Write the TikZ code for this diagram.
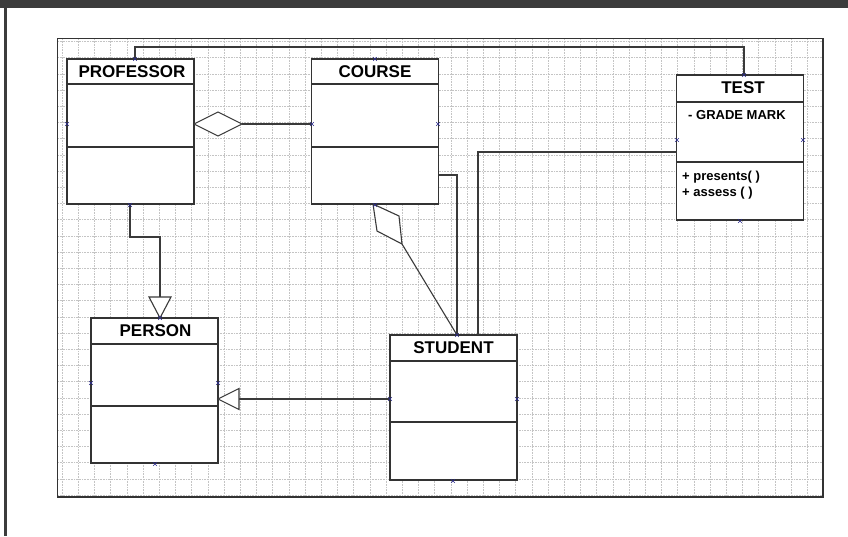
\documentclass[tikz,border=0pt]{standalone}
\usepackage{fontspec}
\setmainfont{Liberation Sans}
\usetikzlibrary{calc}
\definecolor{ink}{HTML}{333333}
\definecolor{wire}{HTML}{3A3A3A}
\definecolor{portc}{HTML}{2A2A8A}
\definecolor{topbar}{HTML}{3C3C3C}
\definecolor{gridc}{HTML}{C4C4C4}
\begin{document}
\begin{tikzpicture}[x=1pt,y=-1pt,
  classbox/.style={draw=ink,line width=1.3pt,fill=white,minimum width=127pt,minimum height=145pt,inner sep=0pt,outer sep=0pt},
  ctitle/.style={font=\bfseries\fontsize{17}{20}\selectfont,inner sep=0pt,text=black},
  attr/.style={font=\bfseries\fontsize{13}{15}\selectfont,inner sep=0pt,anchor=west,text=black},
  classline/.style={draw=ink,line width=1.3pt},
  conn/.style={draw=wire,line width=1.1pt,line join=miter},
  gridl/.style={draw=gridc,line width=0.6pt,densely dotted},
  portmark/.style={draw=portc,line width=0.6pt}]
\useasboundingbox (0,0) rectangle (848,536);
\fill[white] (0,0) rectangle (848,536);
% window frame
\fill[topbar] (0,0) rectangle (848,8);
\fill[topbar] (3.5,8) rectangle (6.5,536);
% grid canvas
\foreach \i in {0,...,46} {\draw[gridl] ({62+16.2*\i},39) -- ({62+16.2*\i},497);}
\foreach \j in {0,...,28} {\draw[gridl] (58,{41.4+16.2*\j}) -- (823,{41.4+16.2*\j});}
\draw[ink,line width=1.2pt] (57.5,38.5) rectangle (823,497);

% classes
\node[classbox] (prof) at (130.5,131.5) {};
\node[ctitle] (profT) at ($(prof.north)+(1.5,13)$) {PROFESSOR};
\draw[classline] ($(prof.north west)+(0,25)$) -- ($(prof.north east)+(0,25)$);
\draw[classline] ($(prof.north west)+(0,88)$) -- ($(prof.north east)+(0,88)$);

\node[classbox] (course) at (375,131.5) {};
\node[ctitle] (courseT) at ($(course.north)+(0,13)$) {COURSE};
\draw[classline] ($(course.north west)+(0,25)$) -- ($(course.north east)+(0,25)$);
\draw[classline] ($(course.north west)+(0,88)$) -- ($(course.north east)+(0,88)$);

\node[classbox] (test) at (740,147.5) {};
\node[ctitle] (testT) at ($(test.north)+(3,13)$) {TEST};
\draw[classline] ($(test.north west)+(0,27)$) -- ($(test.north east)+(0,27)$);
\draw[classline] ($(test.north west)+(0,87)$) -- ($(test.north east)+(0,87)$);
\node[attr] (testA) at (688,115) {- GRADE MARK};
\node[attr] (testO1) at (682,177) {+ presents( )};
\node[attr] (testO2) at (682,193) {+ assess ( )};

\node[classbox] (person) at (154.5,390.5) {};
\node[ctitle] (personT) at ($(person.north)+(1,13)$) {PERSON};
\draw[classline] ($(person.north west)+(0,26)$) -- ($(person.north east)+(0,26)$);
\draw[classline] ($(person.north west)+(0,88)$) -- ($(person.north east)+(0,88)$);

\node[classbox] (student) at (453.5,407.5) {};
\node[ctitle] (studentT) at ($(student.north)+(0,13)$) {STUDENT};
\draw[classline] ($(student.north west)+(0,26)$) -- ($(student.north east)+(0,26)$);
\draw[classline] ($(student.north west)+(0,87)$) -- ($(student.north east)+(0,87)$);

% ports
\coordinate (pTop) at ($(prof.north west)+(68,0)$);
\coordinate (tTop) at ($(test.north)+(4,0)$);
\coordinate (pRight) at ($(prof.north east)+(0,65)$);
\coordinate (cLeft) at ($(course.north west)+(0,65)$);
\coordinate (cRight) at ($(course.north east)+(0,116)$);
\coordinate (cBot) at ($(course.south)+(-2,0)$);
\coordinate (tLeft) at ($(test.north west)+(0,77)$);
\coordinate (sTop1) at ($(student.north)+(3.5,0)$);
\coordinate (sTop2) at ($(student.north)+(24.5,0)$);
\coordinate (sLeft) at ($(student.north west)+(0,64)$);
\coordinate (pBot) at ($(prof.south)+(-0.5,0)$);
\coordinate (peTop) at ($(person.north)+(5.5,0)$);
\coordinate (peRight) at ($(person.north east)+(0,81)$);

% connectors
\draw[conn] (pTop) -- ++(0,-12) -| (tTop);
\draw[conn] ($(pRight)+(48,0)$) -- (cLeft);
\draw[conn,fill=white] (pRight) -- ++(24,-12) -- ++(24,12) -- ++(-24,12) -- cycle;
\draw[conn] (cRight) -| (sTop1);
\draw[conn] (tLeft) -| (sTop2);
\draw[conn,fill=white] (cBot) -- ++(26,12) -- ++(3,28) -- ++(-25,-13) -- cycle;
\draw[conn] ($(cBot)+(29,40)$) -- (sTop1);
\draw[conn] (pBot) -- ++(0,33) -| ($(peTop)+(0,-21)$);
\draw[conn,fill=white] (peTop) -- ++(-11,-21) -- ++(22,0) -- cycle;
\draw[conn] (sLeft) -- ($(peRight)+(21,0)$);
\draw[conn,fill=white] (peRight) -- ++(21,-10.5) -- ++(0,21) -- cycle;

% connection point markers
\foreach \px/\py in {135/59,67/124,130/205,375/59,312/124,438/124,375/205,744/75,677/140,803/140,740/221,160/318,91/383,218/383,155/464,457/335,390/399,517/399,453/481}
  {\draw[portmark] (\px-1.8,\py-1.8) -- (\px+1.8,\py+1.8) (\px-1.8,\py+1.8) -- (\px+1.8,\py-1.8);}
\end{tikzpicture}
\end{document}
